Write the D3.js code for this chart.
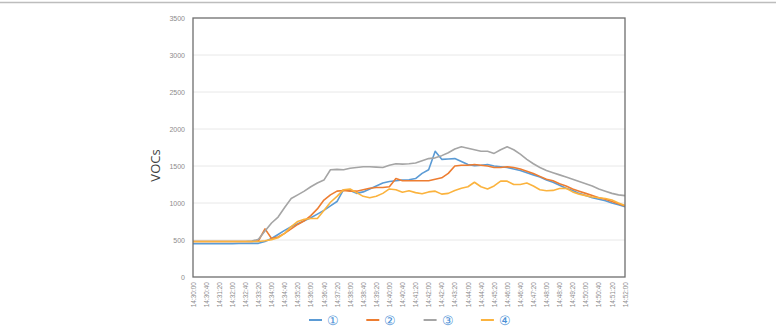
<!DOCTYPE html>
<html>
<head>
<meta charset="utf-8">
<script src="https://cdn.jsdelivr.net/npm/d3@7"></script>
<style>
  body { margin: 0; background: #fff; }
  svg { display: block; font-family: "Open Sans", "Noto Sans", sans-serif; }
</style>
</head>
<body>
<div id="chart"></div>
<script>
// tick labels (every 40 s)
const tickLabels = ["14:30:00","14:30:40","14:31:20","14:32:00","14:32:40","14:33:20","14:34:00","14:34:40",
  "14:35:20","14:36:00","14:36:40","14:37:20","14:38:00","14:38:40","14:39:20","14:40:00","14:40:40",
  "14:41:20","14:42:00","14:42:40","14:43:20","14:44:00","14:44:40","14:45:20","14:46:00","14:46:40",
  "14:47:20","14:48:00","14:48:40","14:49:20","14:50:00","14:50:40","14:51:20","14:52:00"];
const yTicks = [0, 500, 1000, 1500, 2000, 2500, 3000, 3500];
const seriesNames = ["①", "②", "③", "④"];

// readings every 20 s from 14:30:00
const s1 = [450,450,450,450,450,450,450,452,452,455,455,480,520,575,630,680,720,760,800,850,
  900,960,1020,1180,1170,1130,1150,1190,1230,1270,1290,1300,1310,1315,1330,1400,1450,1700,1590,1595,
  1600,1560,1520,1505,1510,1520,1500,1490,1480,1460,1440,1410,1380,1350,1310,1280,1240,1200,1170,1130,
  1100,1070,1050,1030,1000,975,950];
const s2 = [480,480,480,480,480,480,480,480,480,480,490,650,520,540,590,650,710,760,830,920,
  1040,1110,1160,1170,1160,1160,1180,1200,1210,1210,1220,1330,1300,1300,1300,1300,1300,1320,1340,1400,
  1500,1510,1510,1520,1510,1500,1480,1480,1490,1480,1460,1430,1400,1360,1320,1300,1260,1230,1190,1160,
  1130,1100,1070,1050,1020,990,960];
const s3 = [480,480,480,480,480,480,480,480,480,485,510,620,730,810,940,1060,1110,1160,1220,1270,
  1310,1450,1455,1450,1470,1480,1490,1490,1485,1480,1510,1530,1525,1530,1540,1570,1600,1610,1640,1680,
  1730,1760,1740,1720,1700,1700,1670,1720,1760,1720,1660,1590,1530,1480,1440,1410,1380,1350,1320,1290,
  1260,1230,1190,1160,1130,1110,1100];
const s4 = [480,480,480,480,480,480,480,480,480,480,480,490,505,530,590,680,750,780,790,790,
  900,1010,1090,1180,1190,1140,1090,1070,1090,1130,1190,1180,1145,1165,1140,1125,1150,1160,1120,1130,
  1170,1200,1220,1280,1220,1190,1230,1295,1295,1250,1250,1270,1230,1180,1165,1170,1195,1200,1150,1120,
  1100,1080,1070,1060,1040,1000,965];
const colors = ["#5b9bd5", "#ed7d31", "#a5a5a5", "#fbb33e"];

const W = 776, H = 336;
const margin = {top: 18, right: 151, bottom: 59, left: 193};
const width = W - margin.left - margin.right,
      height = H - margin.top - margin.bottom;

const svg = d3.select("#chart").append("svg")
  .attr("width", W).attr("height", H);

// thin frame line at the top of the picture
svg.append("line")
  .attr("x1", 0).attr("x2", W).attr("y1", 2.5).attr("y2", 2.5)
  .attr("stroke", "#bdbdbd").attr("stroke-width", 1.5);

const g = svg.append("g")
  .attr("transform", "translate(" + margin.left + "," + margin.top + ")");

const toSec = s => { const p = s.split(":").map(Number); return (p[0] - 14) * 3600 + (p[1] - 30) * 60 + p[2]; };
const x = d3.scaleLinear()
  .domain([0, toSec(tickLabels[tickLabels.length - 1])])
  .range([0, width]);
const y = d3.scaleLinear().domain([0, 3500]).range([height, 0]);

// gridlines
g.append("g")
  .selectAll("line")
  .data(yTicks.slice(1, -1))
  .join("line")
    .attr("x1", 0).attr("x2", width)
    .attr("y1", d => y(d)).attr("y2", d => y(d))
    .attr("stroke", "#e8e8e8").attr("stroke-width", 1);

// y axis
const yAxis = g.append("g")
  .style("color", "#8c8c8c")
  .call(d3.axisLeft(y).tickValues(yTicks).tickSize(0).tickPadding(8).tickFormat(d3.format("d")));
yAxis.select(".domain").remove();
yAxis.selectAll("text").style("font-size", "7px");

// x axis
const xAxis = g.append("g")
  .style("color", "#8c8c8c")
  .attr("transform", "translate(0," + height + ")")
  .call(d3.axisBottom(x).tickValues(tickLabels.map(toSec)).tickSize(0)
    .tickFormat((d, i) => tickLabels[i]));
xAxis.select(".domain").remove();
xAxis.selectAll("text")
  .style("font-size", "6.5px")
  .attr("transform", "rotate(-90)")
  .attr("x", -5).attr("y", 0).attr("dy", "0.32em")
  .style("text-anchor", "end");

// lines
const line = d3.line()
  .x((d, i) => x(i * 20))
  .y(d => y(d));

[s1, s2, s3, s4].forEach((s, k) => {
  g.append("path")
    .datum(s)
    .attr("fill", "none")
    .attr("stroke", colors[k])
    .attr("stroke-width", 1.6)
    .attr("stroke-linejoin", "round")
    .attr("d", line);
});

// plot frame
g.append("rect")
  .attr("x", 0).attr("y", 0)
  .attr("width", width).attr("height", height)
  .attr("fill", "none")
  .attr("stroke", "#6e6e6e").attr("stroke-width", 1.3);

// y title
svg.append("text")
  .attr("transform", "translate(160," + (margin.top + height / 2 + 18) + ") rotate(-90)")
  .attr("text-anchor", "middle")
  .attr("fill", "#404040")
  .style("font-size", "13px")
  .text("VOCs");

// legend
const legend = svg.append("g").attr("transform", "translate(309,320)");
seriesNames.forEach((name, k) => {
  const lg = legend.append("g").attr("transform", "translate(" + (k * 57.3) + ",0)");
  lg.append("line")
    .attr("x1", 0).attr("x2", 13).attr("y1", 0).attr("y2", 0)
    .attr("stroke", colors[k]).attr("stroke-width", 2);
  lg.append("text")
    .attr("x", 18).attr("y", 0).attr("dy", "0.35em")
    .attr("fill", "#4a8fd6")
    .style("font-size", "13px")
    .text(name);
});
</script>
</body>
</html>
